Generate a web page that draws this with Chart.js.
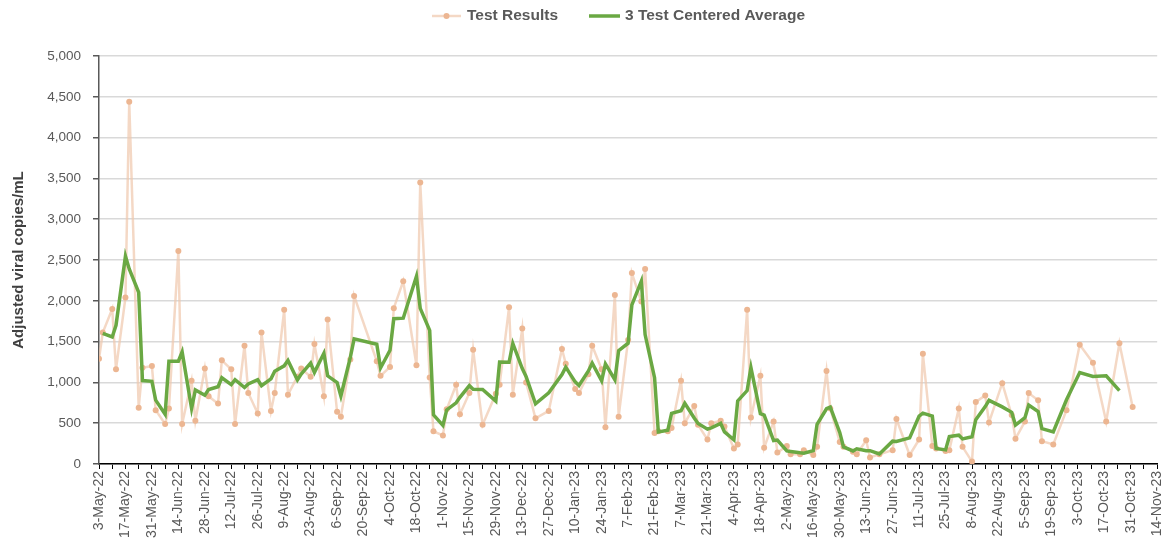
<!DOCTYPE html>
<html>
<head>
<meta charset="utf-8">
<script src="https://cdn.jsdelivr.net/npm/chart.js@4.4.1/dist/chart.umd.min.js"></script>
<style>
html,body{margin:0;padding:0;background:#ffffff;}
#wrap{width:1176px;height:552px;}
</style>
</head>
<body>
<div id="wrap"><canvas id="c" width="1176" height="552"></canvas></div>
<script>
// Days since 3-May-22 on which each test was taken
const testDays = [
  0, 2, 7, 9, 14, 16, 21, 23, 28, 30, 35, 37, 42, 44, 49, 51, 56, 58, 63, 65,
  70, 72, 77, 79, 84, 86, 91, 93, 98, 100, 105, 107, 112, 114, 119, 121, 126, 128, 133, 135,
  147, 149, 154, 156, 161, 168, 170, 175, 177, 182, 184, 189, 191, 196, 198, 203, 210, 212, 217, 219,
  224, 226, 231, 238, 245, 247, 252, 254, 259, 261, 266, 268, 273, 275, 280, 282, 287, 289, 294, 296, 301,
  303, 308, 310, 315, 317, 322, 324, 329, 331, 336, 338, 343, 345, 350, 352, 357, 359, 364, 366, 371,
  373, 378, 380, 385, 387, 392, 394, 399, 401, 406, 408, 413, 420, 422, 429, 434, 436, 441, 443, 448, 450,
  455, 457, 462, 464, 469, 471, 478, 483, 485, 490, 492, 497, 499, 505, 512, 519, 526, 533, 540, 547
];

// Adjusted viral copies/mL for each test
const testResults = [
  1290, 1610, 1900, 1160, 2040, 4440, 690, 1180, 1200, 660, 490, 680, 2610, 490, 1020, 530, 1170, 830, 740, 1270,
  1160, 490, 1450, 870, 620, 1610, 650, 870, 1890, 850, 1070, 1170, 1070, 1470, 830, 1770, 640, 580, 1280, 2060,
  1260, 1080, 1190, 1910, 2240, 1210, 3450, 1060, 400, 350, 670, 970, 610, 870, 1400, 480, 860, 970, 1920, 850,
  1660, 1000, 560, 650, 1410, 1230, 920, 870, 1100, 1450, 1160, 450, 2070, 580, 1520, 2340, 1990, 2390, 380, 400, 400,
  440, 1020, 500, 710, 480, 300, 500, 530, 460, 190, 240, 1890, 570, 1080, 200, 520, 140, 220, 120, 120,
  170, 110, 210, 1140, 680, 270, 210, 150, 120, 290, 80, 120, 170, 550, 110, 300, 1350, 220, 190, 160, 170,
  680, 210, 30, 760, 840, 510, 990, 600, 310, 520, 870, 780, 280, 240, 660, 1460, 1240, 520, 1480, 700
];

// 3 test centered average
const centeredAverage = [
  null, 1600, 1557, 1700, 2547, 2390, 2103, 1023, 1013, 783, 610, 1260, 1260, 1373, 680, 907, 843, 913, 947, 1057,
  973, 1033, 937, 980, 1033, 960, 1043, 1137, 1203, 1270, 1030, 1103, 1237, 1123, 1357, 1080, 997, 833, 1307, 1533,
  1467, 1177, 1393, 1780, 1787, 2300, 1907, 1637, 603, 473, 663, 750, 817, 960, 917, 913, 770, 1250, 1247, 1477,
  1170, 1073, 737, 873, 1097, 1187, 1007, 963, 1140, 1237, 1020, 1227, 1033, 1390, 1480, 1950, 2240, 1587, 1057, 393, 413,
  620, 653, 743, 563, 497, 427, 443, 497, 393, 297, 773, 900, 1180, 617, 600, 287, 293, 160, 153, 137,
  133, 163, 487, 677, 697, 387, 210, 160, 187, 163, 163, 123, 280, 277, 320, 587, 623, 587, 190, 173, 337,
  353, 307, 333, 543, 703, 780, 700, 633, 477, 567, 723, 643, 433, 393, 787, 1120, 1073, 1080, 900, null
];

// Labelled x ticks, one every 14 days starting 3-May-22
const xTickLabels = [
  '3-May-22', '17-May-22', '31-May-22', '14-Jun-22', '28-Jun-22', '12-Jul-22', '26-Jul-22', '9-Aug-22',
  '23-Aug-22', '6-Sep-22', '20-Sep-22', '4-Oct-22', '18-Oct-22', '1-Nov-22', '15-Nov-22', '29-Nov-22',
  '13-Dec-22', '27-Dec-22', '10-Jan-23', '24-Jan-23', '7-Feb-23', '21-Feb-23', '7-Mar-23', '21-Mar-23',
  '4-Apr-23', '18-Apr-23', '2-May-23', '16-May-23', '30-May-23', '13-Jun-23', '27-Jun-23', '11-Jul-23',
  '25-Jul-23', '8-Aug-23', '22-Aug-23', '5-Sep-23', '19-Sep-23', '3-Oct-23', '17-Oct-23', '31-Oct-23', '14-Nov-23'
];

const seriesNames = ['Test Results', '3 Test Centered Average'];
const yTitle = 'Adjusted viral copies/mL';

const FONT = "'Liberation Sans', Arial, sans-serif";
const TAN_LINE = 'rgba(240, 200, 172, 0.7)';
const TAN_DOT = '#ecb692';
const GREEN = '#6aa843';
const X_MAX = (xTickLabels.length - 1) * 14;

const testPoints = testDays.map((d, i) => ({x: d, y: testResults[i]}));
const avgPoints = testDays.map((d, i) => ({x: d, y: centeredAverage[i]})).filter(p => p.y !== null);

const refLegend = {
  id: 'refLegend',
  afterDraw(chart) {
    const ctx = chart.ctx;
    ctx.save();
    const cy = 16;
    ctx.strokeStyle = TAN_LINE; ctx.lineWidth = 2.5;
    ctx.beginPath(); ctx.moveTo(432, cy); ctx.lineTo(461, cy); ctx.stroke();
    ctx.fillStyle = TAN_DOT;
    ctx.beginPath(); ctx.arc(446.5, cy, 3, 0, Math.PI * 2); ctx.fill();
    ctx.strokeStyle = GREEN; ctx.lineWidth = 3.5;
    ctx.beginPath(); ctx.moveTo(589, cy); ctx.lineTo(620, cy); ctx.stroke();
    ctx.fillStyle = '#595959';
    ctx.font = 'bold 15.5px ' + FONT;
    ctx.textBaseline = 'middle';
    ctx.textAlign = 'left';
    ctx.fillText(chart.data.datasets[0].label, 467, cy);
    ctx.fillText(chart.data.datasets[1].label, 625, cy);
    ctx.restore();
  }
};

new Chart(document.getElementById('c'), {
  type: 'line',
  data: {
    datasets: [
      {
        label: seriesNames[0],
        data: testPoints,
        borderColor: TAN_LINE,
        borderWidth: 2.5,
        pointRadius: 3,
        pointBackgroundColor: TAN_DOT,
        pointBorderColor: TAN_DOT,
        pointBorderWidth: 0,
        tension: 0,
        order: 2
      },
      {
        label: seriesNames[1],
        data: avgPoints,
        borderColor: GREEN,
        borderWidth: 3.5,
        pointRadius: 0,
        tension: 0,
        order: 1
      }
    ]
  },
  options: {
    responsive: false,
    animation: false,
    devicePixelRatio: 1,
    layout: {padding: {top: 56, right: 8, left: 0, bottom: 0}},
    plugins: {legend: {display: false}, tooltip: {enabled: false}},
    scales: {
      x: {
        type: 'linear',
        min: 0,
        max: X_MAX,
        afterBuildTicks: s => {
          const t = [];
          for (let d = 0; d <= X_MAX; d += 7) t.push({value: d});
          s.ticks = t;
        },
        afterFit: s => { s.height = 88; },
        ticks: {
          autoSkip: false,
          minRotation: 90,
          maxRotation: 90,
          padding: 2,
          color: '#595959',
          font: {family: FONT, size: 14},
          callback: v => (v % 14 === 0 ? xTickLabels[v / 14] : '')
        },
        grid: {drawOnChartArea: false, drawTicks: true, tickLength: 5, tickColor: '#000000', tickWidth: 1},
        border: {display: true, color: '#000000', width: 1.5}
      },
      y: {
        min: 0,
        max: 5000,
        afterBuildTicks: s => {
          const t = [];
          for (let v = 0; v <= 5000; v += 500) t.push({value: v});
          s.ticks = t;
        },
        afterFit: s => { s.width = 99; },
        ticks: {
          padding: 12,
          color: '#595959',
          font: {family: FONT, size: 13.5},
          callback: v => v.toLocaleString('en-US')
        },
        grid: {color: '#d9d9d9', lineWidth: 1.5, tickLength: 6, tickColor: '#595959'},
        border: {color: '#595959', width: 1.5},
        title: {
          display: true,
          text: yTitle,
          color: '#404040',
          font: {family: FONT, size: 15, weight: 'bold'},
          padding: {top: 10, bottom: 0}
        }
      }
    }
  },
  plugins: [refLegend]
});
</script>
</body>
</html>
